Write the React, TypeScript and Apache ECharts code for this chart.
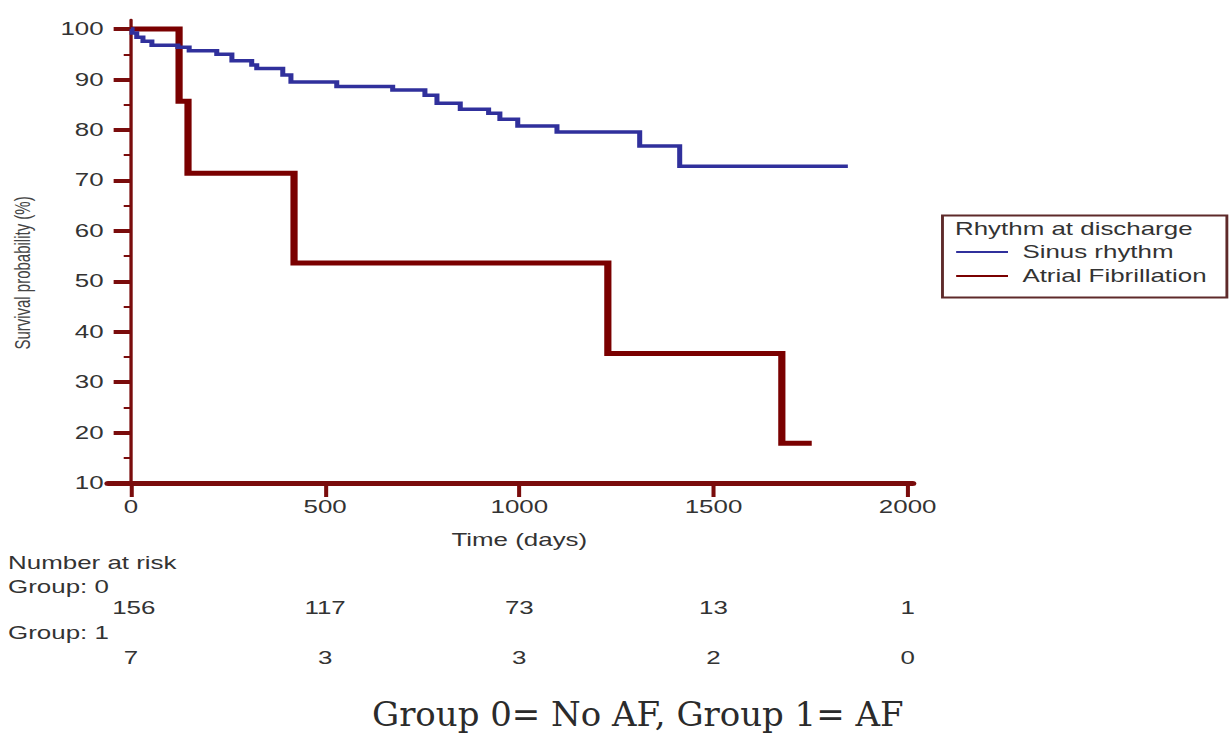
import React, { useEffect, useRef } from "react";
import * as echarts from "echarts";

// The reference image is horizontally stretched; reproduce that with a CSS scaleX.
const STRETCH = 1.44;
const CHART_W = 1230 / STRETCH;
const CHART_H = 735;

const xTicks = [0, 500, 1000, 1500, 2000];
const yTicks = [10, 20, 30, 40, 50, 60, 70, 80, 90, 100];
const yMinorTicks = [15, 25, 35, 45, 55, 65, 75, 85, 95];

// Sinus rhythm (Group 0) Kaplan-Meier: event times (days) and survival (%)
const sinusTimes = [0, 3, 15, 31, 54, 121, 150, 221, 260, 311, 324, 391, 412, 530, 674, 757, 788, 848, 921, 950, 996, 1097, 1310, 1413, 1846];
const sinusSurvival = [100, 99.2, 98.4, 97.6, 96.8, 96.4, 95.7, 95.0, 93.7, 92.9, 92.2, 90.9, 89.5, 88.6, 87.9, 86.9, 85.3, 84.1, 83.3, 82.1, 80.8, 79.6, 76.8, 72.8, 72.8];

// Atrial fibrillation (Group 1)
const afTimes = [0, 124, 147, 420, 1228, 1676, 1753];
const afSurvival = [100, 85.7, 71.4, 53.6, 35.7, 17.9, 17.9];

// Number at risk table
const riskTimes = [0, 500, 1000, 1500, 2000];
const atRiskGroup0 = [156, 117, 73, 13, 1];
const atRiskGroup1 = [7, 3, 3, 2, 0];

const SANS = "'Liberation Sans', Arial, sans-serif";
const AXIS_RED = "#7a0c0c";
const TEXT = "#333333";

const GRID_LEFT = 75;
const X_MIN = -59;
const X_MAX = 2013;

export default function App() {
  const ref = useRef<HTMLDivElement>(null);

  useEffect(() => {
    const el = ref.current;
    if (!el) return;
    const chart = echarts.init(el, null, { renderer: "svg" });

    const plainNumber = (v: number) => String(v);

    const option: any = {
      animation: false,
      backgroundColor: "#ffffff",
      grid: { left: GRID_LEFT, right: CHART_W - 634, top: 20, bottom: CHART_H - 483, containLabel: false },
      xAxis: {
        type: "value",
        min: X_MIN,
        max: X_MAX,
        splitLine: { show: false },
        axisLine: { show: true, onZero: false, lineStyle: { color: AXIS_RED, width: 5 } },
        axisTick: { show: true, customValues: xTicks, length: 14, lineStyle: { color: AXIS_RED, width: 2.8 } },
        axisLabel: { show: true, customValues: xTicks, formatter: plainNumber, margin: 15, fontFamily: SANS, fontSize: 18, color: TEXT },
      },
      yAxis: [
        {
          type: "value",
          min: 10,
          max: 101.8,
          splitLine: { show: false },
          axisLine: { show: true, onZero: true, lineStyle: { color: AXIS_RED, width: 2.3 } },
          axisTick: { show: true, customValues: yTicks, length: 12, lineStyle: { color: AXIS_RED, width: 4 } },
          axisLabel: { show: true, customValues: yTicks, formatter: plainNumber, margin: 3, fontFamily: SANS, fontSize: 18, color: TEXT },
        },
        {
          type: "value",
          position: "left",
          min: 10,
          max: 101.8,
          offset: 0,
          splitLine: { show: false },
          axisLine: { show: false, onZero: false },
          axisTick: { show: true, customValues: yMinorTicks, length: 5, lineStyle: { color: AXIS_RED, width: 2 } },
          axisLabel: { show: false },
        },
      ],
      legend: {
        data: ["Sinus rhythm", "Atrial Fibrillation"],
        orient: "vertical",
        left: 664,
        top: 242,
        padding: 0,
        itemGap: 4,
        itemWidth: 36,
        itemHeight: 2,
        icon: "rect",
        selectedMode: false,
        itemStyle: { borderWidth: 0 },
        textStyle: { fontFamily: SANS, fontSize: 18, color: TEXT, lineHeight: 20, padding: [0, 0, 0, 5] },
      },
      series: [
        {
          name: "Atrial Fibrillation",
          type: "line",
          step: "end",
          showSymbol: false,
          z: 2,
          color: "#7a0000",
          lineStyle: { width: 5, color: "#7a0000", cap: "butt", join: "miter" },
          data: afTimes.map((t, i) => [t, afSurvival[i]]),
        },
        {
          name: "Sinus rhythm",
          type: "line",
          step: "end",
          showSymbol: false,
          z: 3,
          color: "#30309c",
          lineStyle: { width: 3.5, color: "#30309c", cap: "butt", join: "miter" },
          data: sinusTimes.map((t, i) => [t, sinusSurvival[i]]),
        },
      ],
    };

    chart.setOption(option);

    // place the minor-tick axis on x = 0, where the main y axis sits
    const zeroX = chart.convertToPixel({ xAxisIndex: 0 }, 0) as number;
    const colX = riskTimes.map((t) => chart.convertToPixel({ xAxisIndex: 0 }, t) as number);

    const textEl = (text: string, x: number, y: number, extra: any = {}, styleExtra: any = {}) => ({
      type: "text",
      x,
      y,
      silent: true,
      ...extra,
      style: {
        text,
        fontFamily: SANS,
        fontSize: 18,
        fill: TEXT,
        align: "left",
        verticalAlign: "middle",
        ...styleExtra,
      },
    });

    const graphics: any[] = [
      // legend box
      {
        type: "rect",
        shape: { x: 654.5, y: 215.5, width: 197.5, height: 82 },
        style: { fill: "none", stroke: "#5e2a2a", lineWidth: 2 },
        silent: true,
      },
      textEl("Rhythm at discharge", 663.2, 229),
      // axis titles
      textEl("Survival probability (%)", 15.3, 273, { rotation: Math.PI / 2 }, { fontSize: 15, align: "center", fill: "#444" }),
      textEl("Time (days)", chart.convertToPixel({ xAxisIndex: 0 }, 1000) as number, 540, {}, { align: "center" }),
      // number at risk
      textEl("Number at risk", 5.6, 563),
      textEl("Group: 0", 5.6, 587),
      textEl("Group: 1", 5.6, 633),
      ...atRiskGroup0.map((n, i) => textEl(String(n), colX[i] + (i === 0 ? 2 : 0), 608, {}, { align: "center" })),
      ...atRiskGroup1.map((n, i) => textEl(String(n), colX[i], 658, {}, { align: "center" })),
      // caption (not stretched in the reference)
      textEl("Group 0= No AF, Group 1= AF", 372 / STRETCH, 714, { scaleX: 1 / STRETCH }, {
        fontFamily: "'DejaVu Serif', serif",
        fontSize: 34,
        lineHeight: 34,
        fill: "#2b2b2b",
      }),
    ];

    chart.setOption({
      yAxis: [{}, { offset: -(zeroX - GRID_LEFT) }],
      graphic: graphics,
    });

    return () => {
      chart.dispose();
    };
  }, []);

  return (
    <div style={{ position: "absolute", left: 0, top: 0, width: 1230, height: 735, overflow: "hidden", background: "#fff" }}>
      <div
        ref={ref}
        style={{
          width: CHART_W,
          height: CHART_H,
          transform: `scaleX(${STRETCH})`,
          transformOrigin: "0 0",
        }}
      />
    </div>
  );
}
